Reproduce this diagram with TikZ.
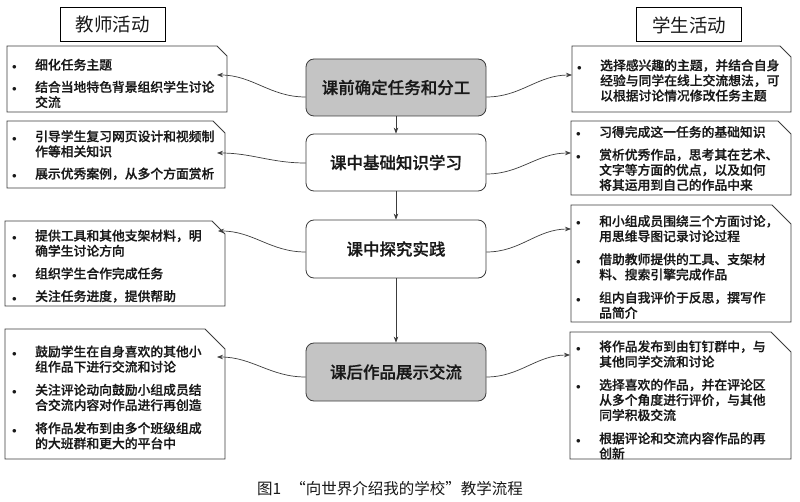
\documentclass[tikz,border=0pt]{standalone}
\usepackage{fontspec}
\usetikzlibrary{arrows.meta}
\newfontfamily\cjk{Noto Sans CJK SC}
\IfFontExistsTF{Noto Sans CJK SC Medium}{\newfontfamily\cjkm{Noto Sans CJK SC Medium}[FakeBold=0.6]}{\newfontfamily\cjkm{Noto Sans CJK SC}[FakeBold=1.2]}
\definecolor{stagefill}{RGB}{196,196,196}
\definecolor{linecol}{RGB}{60,60,60}
\definecolor{txtcol}{RGB}{25,25,25}
\newcommand\bul{{\fontsize{9}{9}\selectfont$\bullet$}}
\newcommand\chbox[2]{\draw[boxline] (#1.south west) -- (#1.north west) -- ([xshift=-#2pt]#1.north east) -- ([yshift=-#2pt]#1.north east) -- (#1.south east) -- cycle;}
\begin{document}
\begin{tikzpicture}[x=1pt,y=-1pt,
  boxline/.style={draw=linecol, line width=0.8pt},
  frame/.style={inner sep=0pt, outer sep=0pt},
  itemtxt/.style={anchor=west, inner sep=0pt, text=txtcol, font=\cjkm\fontsize{12.8}{14.2}\selectfont},
  stage/.style={draw=linecol, line width=0.8pt, rounded corners=8pt, minimum width=180pt, minimum height=57pt, inner sep=0pt, text=txtcol, font=\cjkm\fontsize{16.5}{18}\selectfont},
  stagegray/.style={stage, fill=stagefill},
  head/.style={draw=black, line width=1pt, minimum width=105pt, minimum height=34pt, inner sep=0pt, text=txtcol, font=\cjk\fontsize{18.5}{20}\selectfont},
  conn/.style={draw=linecol, line width=0.7pt, -{Stealth[length=6pt,width=4.5pt]}},
]
\useasboundingbox (0,0) rectangle (800,502);
\fill[white] (0,0) rectangle (800,502);

% headers
\node[head] (H1) at (112.5,25) {教师活动};
\node[head] (H2) at (689,25) {学生活动};

% center stages
\node[stagegray] (C1) at (396,87.5) {课前确定任务和分工};
\node[stage] (C2) at (396,162.5) {课中基础知识学习};
\node[stage, minimum height=58pt] (C3) at (396,249) {课中探究实践};
\node[stagegray, minimum height=58pt] (C4) at (396,372) {课后作品展示交流};

\draw[conn] (C1.south) -- (C2.north);
\draw[conn] (C2.south) -- (C3.north);
\draw[conn] (C3.south) -- (C4.north);

% left frames
\node[frame, minimum width=220pt, minimum height=66pt] (L1) at (117,79) {};
\node[frame, minimum width=218pt, minimum height=67pt] (L2) at (116,154.5) {};
\node[frame, minimum width=220pt, minimum height=85pt] (L3) at (115,263.5) {};
\node[frame, minimum width=220pt, minimum height=130pt] (L4) at (115,394) {};
\chbox{L1}{10}
\chbox{L2}{12}
\chbox{L3}{13}
\chbox{L4}{20}

% right frames
\node[frame, minimum width=219pt, minimum height=66pt] (R1) at (681.5,79) {};
\node[frame, minimum width=220pt, minimum height=74pt] (R2) at (681,158) {};
\node[frame, minimum width=220pt, minimum height=117pt] (R3) at (681,263.5) {};
\node[frame, minimum width=221pt, minimum height=127pt] (R4) at (680.5,395.5) {};
\chbox{R1}{11}
\chbox{R2}{13}
\chbox{R3}{19}
\chbox{R4}{20}

% left texts
\node[itemtxt] (L1t) at ([xshift=5pt,yshift=-6pt]L1.west) {\begin{tabular}{@{}p{23pt}@{}l@{}}
\bul & 细化任务主题\\[7pt]
\bul & 结合当地特色背景组织学生讨论\\
     & 交流
\end{tabular}};
\node[itemtxt] (L2t) at ([xshift=5pt,yshift=-2pt]L2.west) {\begin{tabular}{@{}p{23pt}@{}l@{}}
\bul & 引导学生复习网页设计和视频制\\
     & 作等相关知识\\[7pt]
\bul & 展示优秀案例，从多个方面赏析
\end{tabular}};
\node[itemtxt] (L3t) at ([xshift=7pt,yshift=-4pt]L3.west) {\begin{tabular}{@{}p{23pt}@{}l@{}}
\bul & 提供工具和其他支架材料，明\\
     & 确学生讨论方向\\[7.5pt]
\bul & 组织学生合作完成任务\\[7.5pt]
\bul & 关注任务进度，提供帮助
\end{tabular}};
\node[itemtxt] (L4t) at ([xshift=7pt,yshift=-5pt]L4.west) {\begin{tabular}{@{}p{23pt}@{}l@{}}
\bul & 鼓励学生在自身喜欢的其他小\\
     & 组作品下进行交流和讨论\\[8pt]
\bul & 关注评论动向鼓励小组成员结\\
     & 合交流内容对作品进行再创造\\[8pt]
\bul & 将作品发布到由多个班级组成\\
     & 的大班群和更大的平台中
\end{tabular}};

% right texts
\node[itemtxt] (R1t) at ([xshift=5pt,yshift=-3pt]R1.west) {\begin{tabular}{@{}p{23pt}@{}l@{}}
\bul & 选择感兴趣的主题，并结合自身\\
     & 经验与同学在线上交流想法，可\\
     & 以根据讨论情况修改任务主题
\end{tabular}};
\node[itemtxt] (R2t) at ([xshift=5pt,yshift=-2pt]R2.west) {\begin{tabular}{@{}p{23pt}@{}l@{}}
\bul & 习得完成这一任务的基础知识\\[7.5pt]
\bul & 赏析优秀作品，思考其在艺术、\\
     & 文字等方面的优点，以及如何\\
     & 将其运用到自己的作品中来
\end{tabular}};
\node[itemtxt] (R3t) at ([xshift=5pt,yshift=-5pt]R3.west) {\begin{tabular}{@{}p{23pt}@{}l@{}}
\bul & 和小组成员围绕三个方面讨论，\\
     & 用思维导图记录讨论过程\\[8pt]
\bul & 借助教师提供的工具、支架材\\
     & 料、搜索引擎完成作品\\[8pt]
\bul & 组内自我评价于反思，撰写作\\
     & 品简介
\end{tabular}};
\node[itemtxt] (R4t) at ([xshift=6pt,yshift=-6pt]R4.west) {\begin{tabular}{@{}p{23pt}@{}l@{}}
\bul & 将作品发布到由钉钉群中，与\\
     & 其他同学交流和讨论\\[8pt]
\bul & 选择喜欢的作品，并在评论区\\
     & 从多个角度进行评价，与其他\\
     & 同学积极交流\\[8pt]
\bul & 根据评论和交流内容作品的再\\
     & 创新
\end{tabular}};

% connectors
\draw[conn] ([yshift=-9.5pt]C1.west) to[out=180,in=0] ([xshift=-10pt,yshift=4pt]L1.east);
\draw[conn] ([yshift=-9.5pt]C1.east) to[out=0,in=180] ([yshift=4pt]R1.west);
\draw[conn] ([yshift=-0.5pt]C2.west) to[out=180,in=0] ([xshift=-8pt,yshift=1.5pt]L2.east);
\draw[conn] ([yshift=-11.5pt]C2.east) to[out=0,in=180] ([yshift=5pt]R2.west);
\draw[conn] ([yshift=-3pt]C3.west) to[out=180,in=0] ([xshift=-7pt,yshift=32.5pt]L3.east);
\draw[conn] ([yshift=-3pt]C3.east) to[out=0,in=180] ([yshift=34.5pt]R3.west);
\draw[conn] ([yshift=-5pt]C4.west) to[out=180,in=0] ([xshift=-8pt,yshift=37pt]L4.east);
\draw[conn] ([yshift=-5pt]C4.east) to[out=0,in=180] ([yshift=40.5pt]R4.west);

% caption
\node[inner sep=0pt, text=txtcol, font=\cjk\fontsize{15.5}{17}\selectfont] (cap) at (390,489) {图1\hspace{0.6em}“向世界介绍我的学校”教学流程};
\end{tikzpicture}
\end{document}
